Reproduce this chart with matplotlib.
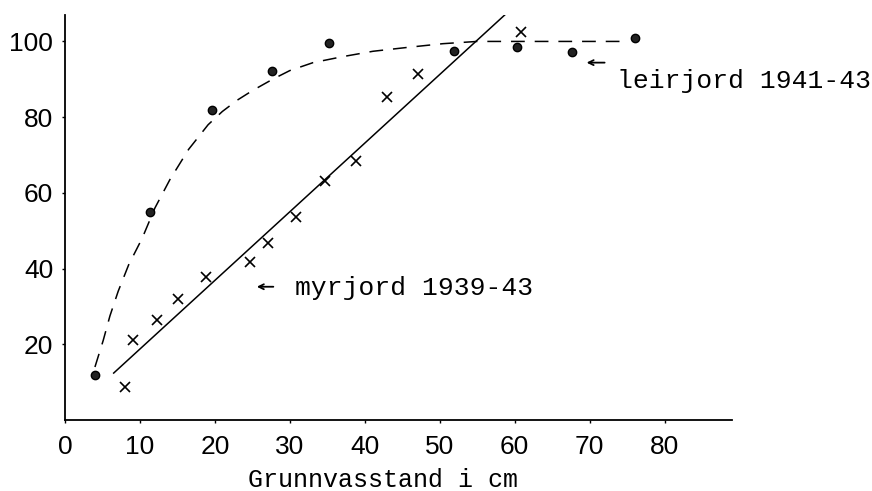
import matplotlib
matplotlib.use('Agg')
import matplotlib.pyplot as plt

# Data
# leirjord 1941-43 (circles)
leir_x = [4.0, 11.3, 19.6, 27.6, 35.2, 51.9, 60.3, 67.6, 76.0]
leir_y = [11.9, 55.0, 82.0, 92.1, 99.7, 97.4, 98.4, 97.1, 101.0]

# myrjord 1939-43 (crosses)
myr_x = [8.0, 9.1, 12.3, 15.1, 18.8, 24.7, 27.1, 30.8, 34.7, 38.8, 42.9, 47.1, 60.9]
myr_y = [8.7, 21.2, 26.5, 32.0, 37.8, 41.8, 46.8, 53.7, 63.2, 68.3, 85.4, 91.5, 102.6]

# hand-drawn dashed curve for leirjord
curve_x = [4.0, 5.1, 6.0, 7.1, 8.5, 10.3, 12.0, 14.0, 16.5, 19.1, 21.0, 23.0, 25.0,
           27.7, 30.0, 33.1, 37.1, 41.1, 45.6, 50.4, 55.0, 60.0, 67.0, 75.0]
curve_y = [14.0, 21.0, 27.5, 34.0, 41.0, 48.0, 56.0, 63.5, 71.5, 78.0, 81.5, 84.5, 87.0,
           90.0, 92.3, 94.4, 96.0, 97.4, 98.4, 99.4, 100.0, 100.0, 100.0, 100.0]

# straight line for myrjord
line_x = [6.5, 58.9]
line_y = [12.4, 107.4]

x_ticks = [0, 10, 20, 30, 40, 50, 60, 70, 80]
y_ticks = [20, 40, 60, 80, 100]

plt.rcParams['font.family'] = ['Liberation Sans', 'DejaVu Sans']
mono = ['Liberation Mono', 'DejaVu Sans Mono']

fig = plt.figure(figsize=(8.72, 4.91), dpi=100)
ax = fig.add_axes([0.0745, 0.1446, 0.765, 0.825])

ax.plot(curve_x, curve_y, color='black', lw=1.1, ls=(0, (9, 6.5)))
ax.plot(line_x, line_y, color='black', lw=1.1)
ax.plot(leir_x, leir_y, 'o', color='black', ms=6, mfc='#222222', mew=1.0, clip_on=False)
ax.plot(myr_x, myr_y, 'x', color='black', ms=7, mew=1.2, clip_on=False)

ax.set_xlim(0, 89)
ax.set_ylim(0, 107)

for s in ['top', 'right']:
    ax.spines[s].set_visible(False)
for s in ['left', 'bottom']:
    ax.spines[s].set_linewidth(1.3)

ax.set_xticks(x_ticks)
ax.set_yticks(y_ticks)
ax.tick_params(axis='both', direction='out', length=2.5, width=1.0, labelsize=19)
ax.tick_params(axis='x', pad=8)
ax.tick_params(axis='y', pad=6)

ax.set_xlabel('Grunnvasstand i cm', family=mono, fontsize=18, va='top')
ax.xaxis.set_label_coords(0.477, -0.118)

# annotations with small arrows
arrow = dict(arrowstyle='->', lw=1.3, color='black', mutation_scale=9, shrinkA=0, shrinkB=0)
ax.annotate('', xy=(25.6, 35.2), xytext=(27.8, 35.2), arrowprops=arrow)
ax.text(30.7, 33.1, 'myrjord 1939-43', family=mono, fontsize=19, ha='left', va='baseline')
ax.annotate('', xy=(69.6, 94.4), xytext=(72.0, 94.4), arrowprops=arrow, annotation_clip=False)
ax.text(73.7, 87.8, 'leirjord 1941-43', family=mono, fontsize=19, ha='left', va='baseline',
        clip_on=False)

fig.savefig('out.png', dpi=100)
